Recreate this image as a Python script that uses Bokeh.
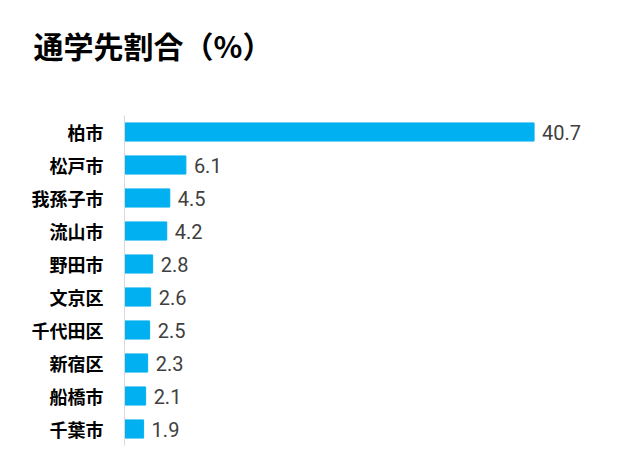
from bokeh.plotting import figure
from bokeh.models import ColumnDataSource, Range1d, FactorRange, Title
from bokeh.core.properties import value
from bokeh.embed import file_html
from bokeh.resources import INLINE

title_text = "通学先割合（%）"
cities = ["柏市", "松戸市", "我孫子市", "流山市", "野田市", "文京区", "千代田区", "新宿区", "船橋市", "千葉市"]
shares = [40.7, 6.1, 4.5, 4.2, 2.8, 2.6, 2.5, 2.3, 2.1, 1.9]
share_labels = [f"{v:.1f}" for v in shares]

src = ColumnDataSource(dict(city=cities, share=shares, label=share_labels))

p = figure(width=625, height=455, output_backend="svg", toolbar_location=None, title=None,
           y_range=FactorRange(*reversed(cities)), x_range=Range1d(0, 47.8),
           min_border_left=124, min_border_right=20, min_border_top=115, min_border_bottom=10)
p.hbar(y="city", right="share", left=0, height=0.55, color="#00B0F0", source=src)
p.text(x="share", y="city", text="label", source=src, x_offset=8, text_baseline="middle",
       text_color="#404040", text_font=value("Roboto"), text_font_size="20px")

# spacer between frame and title (closest to frame), then the title itself
p.add_layout(Title(text=" ", text_font_size="1px", standoff=46), "above")
p.add_layout(Title(text=title_text, text_font="Noto Sans CJK JP", text_font_style="bold",
                   text_font_size="30px", text_color="#000000", align="left",
                   offset=-91, standoff=0), "above")

p.xaxis.visible = False
p.xgrid.visible = False
p.ygrid.visible = False
p.outline_line_color = None
p.yaxis.axis_line_color = "#D9D9D9"
p.yaxis.major_tick_line_color = None
p.yaxis.minor_tick_line_color = None
p.yaxis.major_label_standoff = 15
p.yaxis.major_label_text_font = "Noto Sans CJK JP"
p.yaxis.major_label_text_font_style = "bold"
p.yaxis.major_label_text_font_size = "18px"
p.yaxis.major_label_text_color = "#000000"

open("out.html", "w").write(file_html(p, INLINE))
